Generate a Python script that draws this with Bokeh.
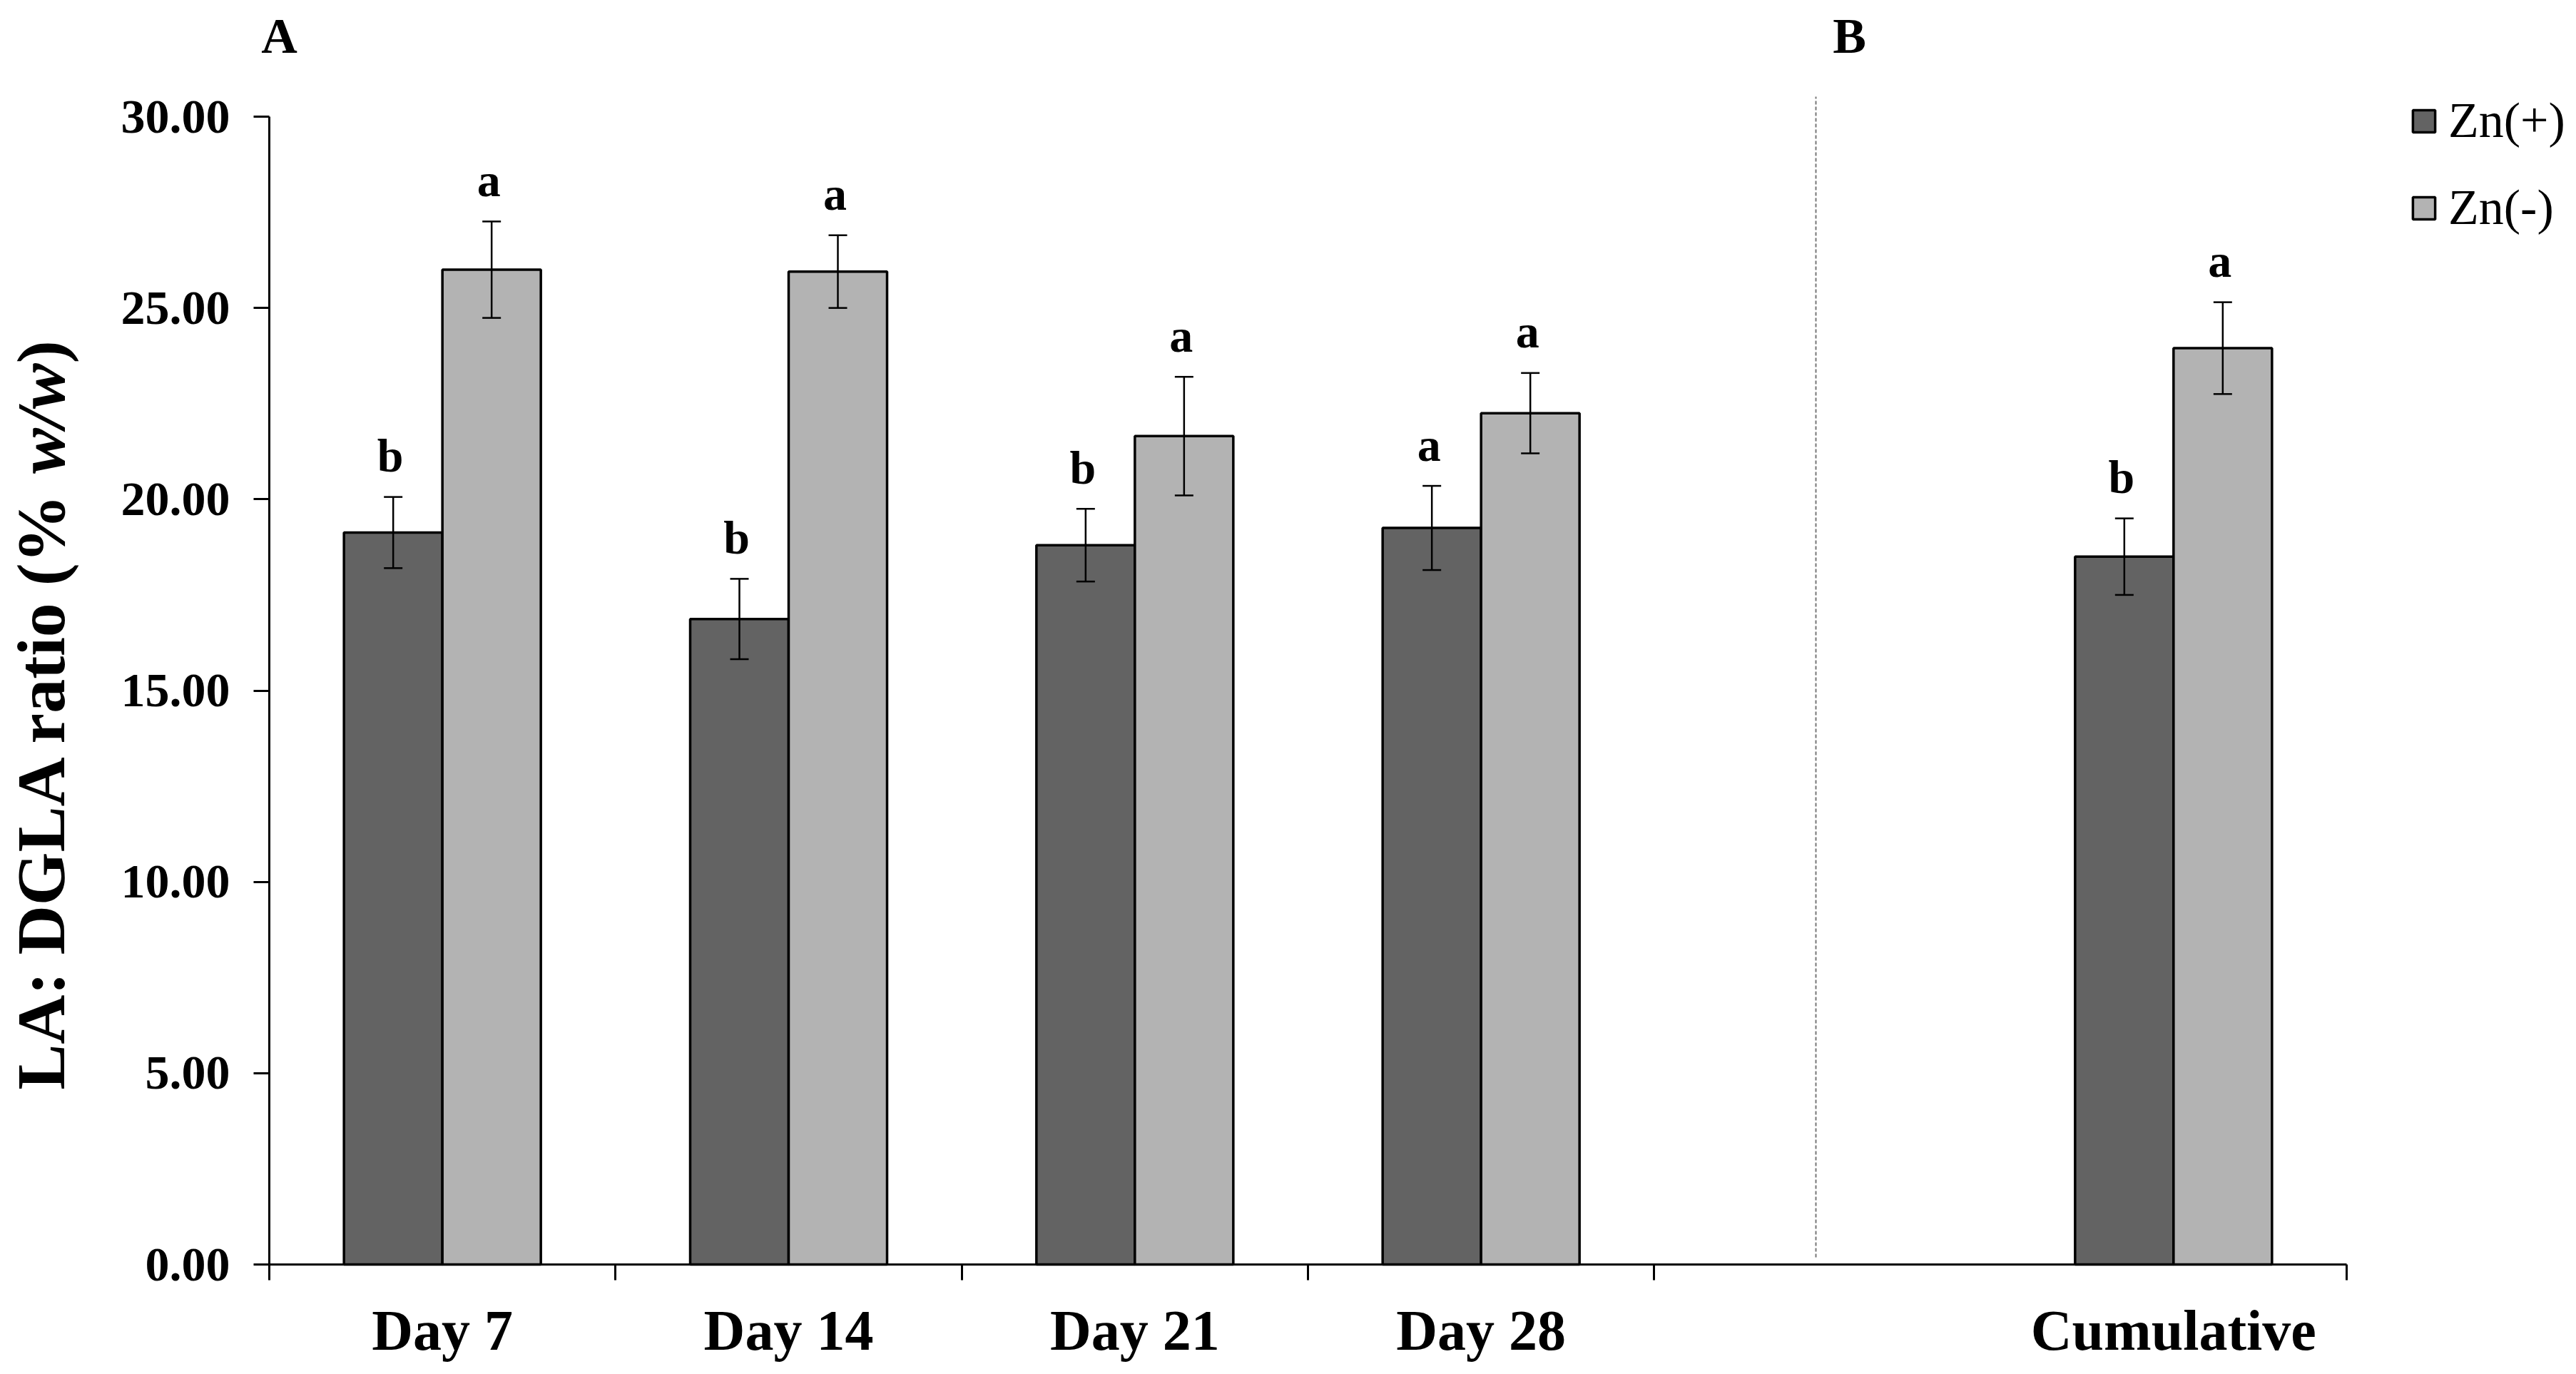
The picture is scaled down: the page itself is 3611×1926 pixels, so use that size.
import math
from bokeh.plotting import figure
from bokeh.models import (Range1d, FixedTicker, NumeralTickFormatter, ColumnDataSource,
                          Whisker, TeeHead, Legend, LegendItem, Label)
from bokeh.embed import file_html
from bokeh.resources import INLINE
from bokeh.core.properties import value

# ---------------- data ----------------
categories = ["Day 7", "Day 14", "Day 21", "Day 28", "", "Cumulative"]
zn_plus = [19.13, 16.87, 18.80, 19.25, 18.50]
zn_plus_err = [0.93, 1.05, 0.95, 1.10, 1.00]
zn_minus = [26.00, 25.95, 21.65, 22.25, 23.95]
zn_minus_err = [1.26, 0.95, 1.55, 1.05, 1.20]
letters_plus = ["b", "b", "b", "a", "b"]
letters_minus = ["a", "a", "a", "a", "a"]
series_names = ["Zn(+)", "Zn(-)"]
y_ticks = [0, 5, 10, 15, 20, 25, 30]
panel_labels = ["A", "B"]

# ---------------- layout ----------------
W, H = 3595, 1910
PAGE = 0
FONT = "Liberation Serif"
C_DARK = "#636363"
C_LIGHT = "#b3b3b3"

n_cat = len(categories)
AX_X0, AX_X1 = 377, 3289      # reference pixels of x axis ends
AX_Y0, AX_Y30 = 1772, 163     # reference pixels of y=0 and y=30
ppu_x = (AX_X1 - AX_X0) / n_cat
ppu_y = (AX_Y0 - AX_Y30) / y_ticks[-1]

# frame covers the whole figure; data 0 sits at the reference axis position
x_start = -(AX_X0 - PAGE) / ppu_x
x_end = (W - (AX_X0 - PAGE)) / ppu_x
y_start = -(H - (AX_Y0 - PAGE)) / ppu_y
y_end = (AX_Y0 - PAGE) / ppu_y


def X(ref_px):
    return (ref_px - AX_X0) / ppu_x


def Y(ref_px):
    return (AX_Y0 - ref_px) / ppu_y


labelled = [i for i, c in enumerate(categories) if c]
centers = [i + 0.5 for i in labelled]
bar_w = 138 / ppu_x
x_plus = [c - bar_w / 2 for c in centers]
x_minus = [c + bar_w / 2 for c in centers]

p = figure(width=W, height=H, output_backend="svg", toolbar_location=None,
           x_range=Range1d(x_start, x_end), y_range=Range1d(y_start, y_end),
           min_border_left=0, min_border_right=0, min_border_top=0, min_border_bottom=0)
p.outline_line_color = None
p.xgrid.visible = False
p.ygrid.visible = False
p.background_fill_color = "white"
p.border_fill_color = "white"

src = ColumnDataSource(dict(
    xp=x_plus, xm=x_minus, yp=zn_plus, ym=zn_minus,
    up_p=[v + e for v, e in zip(zn_plus, zn_plus_err)],
    lo_p=[v - e for v, e in zip(zn_plus, zn_plus_err)],
    up_m=[v + e for v, e in zip(zn_minus, zn_minus_err)],
    lo_m=[v - e for v, e in zip(zn_minus, zn_minus_err)],
    lp=letters_plus, lm=letters_minus,
))

r_plus = p.vbar(x="xp", top="yp", width=bar_w, bottom=0, source=src,
                fill_color=C_DARK, line_color="black", line_width=3.5)
r_minus = p.vbar(x="xm", top="ym", width=bar_w, bottom=0, source=src,
                 fill_color=C_LIGHT, line_color="black", line_width=3.5)

for base, up, lo in (("xp", "up_p", "lo_p"), ("xm", "up_m", "lo_m")):
    w = Whisker(base=base, upper=up, lower=lo, source=src, dimension="height",
                line_color="black", line_width=2.5, level="overlay",
                upper_head=TeeHead(size=26, line_width=2.5, line_color="black"),
                lower_head=TeeHead(size=26, line_width=2.5, line_color="black"))
    p.add_layout(w)

for xcol, ycol, tcol in (("xp", "up_p", "lp"), ("xm", "up_m", "lm")):
    p.text(x=xcol, y=ycol, text=tcol, source=src, text_align="center",
           text_baseline="alphabetic", y_offset=-58, x_offset=-4,
           text_font=value(FONT), text_font_style="bold", text_font_size="66px",
           text_color="black")

# dashed separator between panels A and B
sep_x = X(2545)
p.segment(x0=[sep_x], y0=[Y(1762)], x1=[sep_x], y1=[Y(135)],
          line_color="#777777", line_width=2, line_dash="5 3")

# ---------------- axes ----------------
yax = p.yaxis[0]
yax.fixed_location = 0
yax.ticker = FixedTicker(ticks=y_ticks)
yax.formatter = NumeralTickFormatter(format="0.00")
yax.bounds = (y_ticks[0], y_ticks[-1])
yax.axis_line_width = 3
yax.axis_line_color = "black"
yax.major_tick_line_width = 3
yax.major_tick_line_color = "black"
yax.major_tick_in = 0
yax.major_tick_out = 22
yax.minor_tick_line_color = None
yax.major_label_standoff = 33
yax.major_label_text_font = FONT
yax.major_label_text_font_style = "bold"
yax.major_label_text_font_size = "68px"
yax.major_label_text_color = "black"

xax = p.xaxis[0]
xax.fixed_location = 0
boundaries = [i for i in range(n_cat + 1) if i != n_cat - 1]
xax.ticker = FixedTicker(ticks=centers, minor_ticks=boundaries)
xax.major_label_overrides = {c: categories[i] for c, i in zip(centers, labelled)}
xax.bounds = (0, n_cat)
xax.axis_line_width = 3
xax.axis_line_color = "black"
xax.major_tick_line_color = None
xax.minor_tick_line_color = "black"
xax.minor_tick_line_width = 3
xax.minor_tick_in = 0
xax.minor_tick_out = 22
xax.major_tick_out = 22
xax.major_tick_in = 0
xax.major_label_standoff = 26
xax.major_label_text_font = FONT
xax.major_label_text_font_style = "bold"
xax.major_label_text_font_size = "80px"
xax.major_label_text_color = "black"

# ---------------- y-axis title (mixed bold / bold italic) ----------------
TF = 96
em1, emsp, em2, em3 = 8.749, 0.25, 1.612, 0.333
total = (em1 + emsp + em2 + em3) * TF
start = 1002 + total / 2
parts = [("LA: DGLA ratio (%", "bold", start),
         ("w/w", "bold italic", start - (em1 + emsp) * TF),
         (")", "bold", start - (em1 + emsp + em2) * TF)]
for txt, style, pos in parts:
    p.add_layout(Label(x=X(57), y=Y(pos), text=txt, angle=math.pi / 2,
                       text_align="left", text_baseline="middle",
                       text_font=FONT, text_font_style=style,
                       text_font_size=f"{TF}px", text_color="black"))

# ---------------- panel letters ----------------
for txt, xr in zip(panel_labels, (391, 2592)):
    p.add_layout(Label(x=X(xr), y=Y(50), text=txt, text_align="center",
                       text_baseline="middle", text_font=FONT, text_font_style="bold",
                       text_font_size="70px", text_color="black"))

# ---------------- legend ----------------
legend = Legend(items=[LegendItem(label=series_names[0], renderers=[r_plus]),
                       LegendItem(label=series_names[1], renderers=[r_minus])],
                location=(3378 - PAGE, H - (331 - PAGE)),
                glyph_width=39, glyph_height=39, label_standoff=15,
                spacing=42, padding=0, margin=0,
                border_line_color=None, background_fill_alpha=0,
                label_text_font=FONT, label_text_font_size="70px",
                label_text_color="black")
p.add_layout(legend)

open("out.html", "w").write(file_html(p, INLINE))
